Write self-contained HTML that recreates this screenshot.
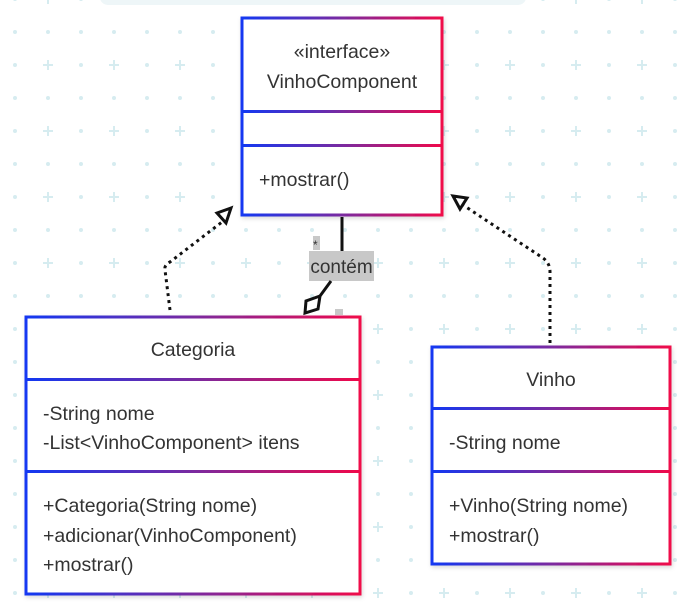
<!DOCTYPE html>
<html><head><meta charset="utf-8"><style>
html,body{margin:0;padding:0;background:#fff;}
svg{display:block;font-family:"Liberation Sans",sans-serif;}
text{fill:#333;font-size:19.5px;}
</style></head><body>
<svg width="687" height="605" viewBox="0 0 687 605" xmlns="http://www.w3.org/2000/svg">
<defs>
<linearGradient id="g" x1="0" y1="0" x2="1" y2="0">
<stop offset="0" stop-color="#1238f2"/><stop offset="0.5" stop-color="#7a2aa0"/><stop offset="1" stop-color="#f0084a"/>
</linearGradient>
<pattern id="grid" x="15" y="32" width="66" height="66" patternUnits="userSpaceOnUse">
<circle cx="0" cy="0" r="2" fill="#d6ecf0"/><circle cx="33" cy="0" r="2" fill="#d6ecf0"/><circle cx="0" cy="33" r="2" fill="#d6ecf0"/><circle cx="66" cy="0" r="2" fill="#d6ecf0"/><circle cx="0" cy="66" r="2" fill="#d6ecf0"/><circle cx="66" cy="33" r="2" fill="#d6ecf0"/><circle cx="33" cy="66" r="2" fill="#d6ecf0"/><circle cx="66" cy="66" r="2" fill="#d6ecf0"/>
<path d="M33 28v10M28 33h10" stroke="#d6ecf0" stroke-width="2"/>
</pattern>
<filter id="sh"><feDropShadow dx="1" dy="2" stdDeviation="2" flood-opacity="0.15"/></filter>
</defs>
<rect width="687" height="605" fill="url(#grid)"/>
<rect x="100" y="-10" width="426" height="15" rx="8" fill="#eef6f8"/>

<!-- Interface -->
<g filter="url(#sh)">
<rect x="242" y="18" width="200" height="197" fill="#fff" stroke="url(#g)" stroke-width="3"/>
</g>
<rect x="242" y="110" width="200" height="3" fill="url(#g)"/>
<rect x="242" y="144" width="200" height="3" fill="url(#g)"/>
<text x="342" y="58" text-anchor="middle">«interface»</text>
<text x="342" y="88" text-anchor="middle">VinhoComponent</text>
<text x="259" y="186">+mostrar()</text>

<!-- Categoria -->
<g filter="url(#sh)">
<rect x="26" y="317" width="334" height="277" fill="#fff" stroke="url(#g)" stroke-width="3"/>
</g>
<rect x="26" y="378" width="334" height="3" fill="url(#g)"/>
<rect x="26" y="470" width="334" height="3" fill="url(#g)"/>
<text x="193" y="356" text-anchor="middle">Categoria</text>
<text x="43" y="420">-String nome</text>
<text x="43" y="449">-List&lt;VinhoComponent&gt; itens</text>
<text x="43" y="512">+Categoria(String nome)</text>
<text x="43" y="542">+adicionar(VinhoComponent)</text>
<text x="43" y="571">+mostrar()</text>

<!-- Vinho -->
<g filter="url(#sh)">
<rect x="432" y="347" width="238" height="217" fill="#fff" stroke="url(#g)" stroke-width="3"/>
</g>
<rect x="432" y="407" width="238" height="3" fill="url(#g)"/>
<rect x="432" y="470" width="238" height="3" fill="url(#g)"/>
<text x="551" y="386" text-anchor="middle">Vinho</text>
<text x="449" y="449">-String nome</text>
<text x="449" y="512">+Vinho(String nome)</text>
<text x="449" y="542">+mostrar()</text>

<!-- Left realization -->
<path d="M170 310 L165 270 Q164 265 170 262 L222 222" fill="none" stroke="#111" stroke-width="3" stroke-dasharray="3 4"/>
<polygon points="231,208 217,213 226,223" fill="#fff" stroke="#111" stroke-width="3"/>
<!-- Right realization -->
<path d="M550 343 L550 272 Q550 263 543 258 L463 205" fill="none" stroke="#111" stroke-width="3" stroke-dasharray="3 4"/>
<polygon points="453,196 467,198 460,209" fill="#fff" stroke="#111" stroke-width="3"/>

<!-- Composition -->
<line x1="342" y1="217" x2="342" y2="252" stroke="#111" stroke-width="3"/>
<rect x="309" y="251" width="65" height="30" fill="#c8c8c8"/>
<text x="341.5" y="273" text-anchor="middle" style="font-size:19px">contém</text>
<line x1="331" y1="281" x2="320" y2="296" stroke="#111" stroke-width="3"/>
<polygon points="320,296 306,301 305,313 318,309" fill="#fff" stroke="#111" stroke-width="3"/>
<rect x="313" y="236" width="7" height="14" fill="#c8c8c8"/>
<text x="313" y="249" style="font-size:12px">*</text>
<rect x="335" y="309" width="8" height="6" fill="#c8c8c8"/>
</svg>
</body></html>
